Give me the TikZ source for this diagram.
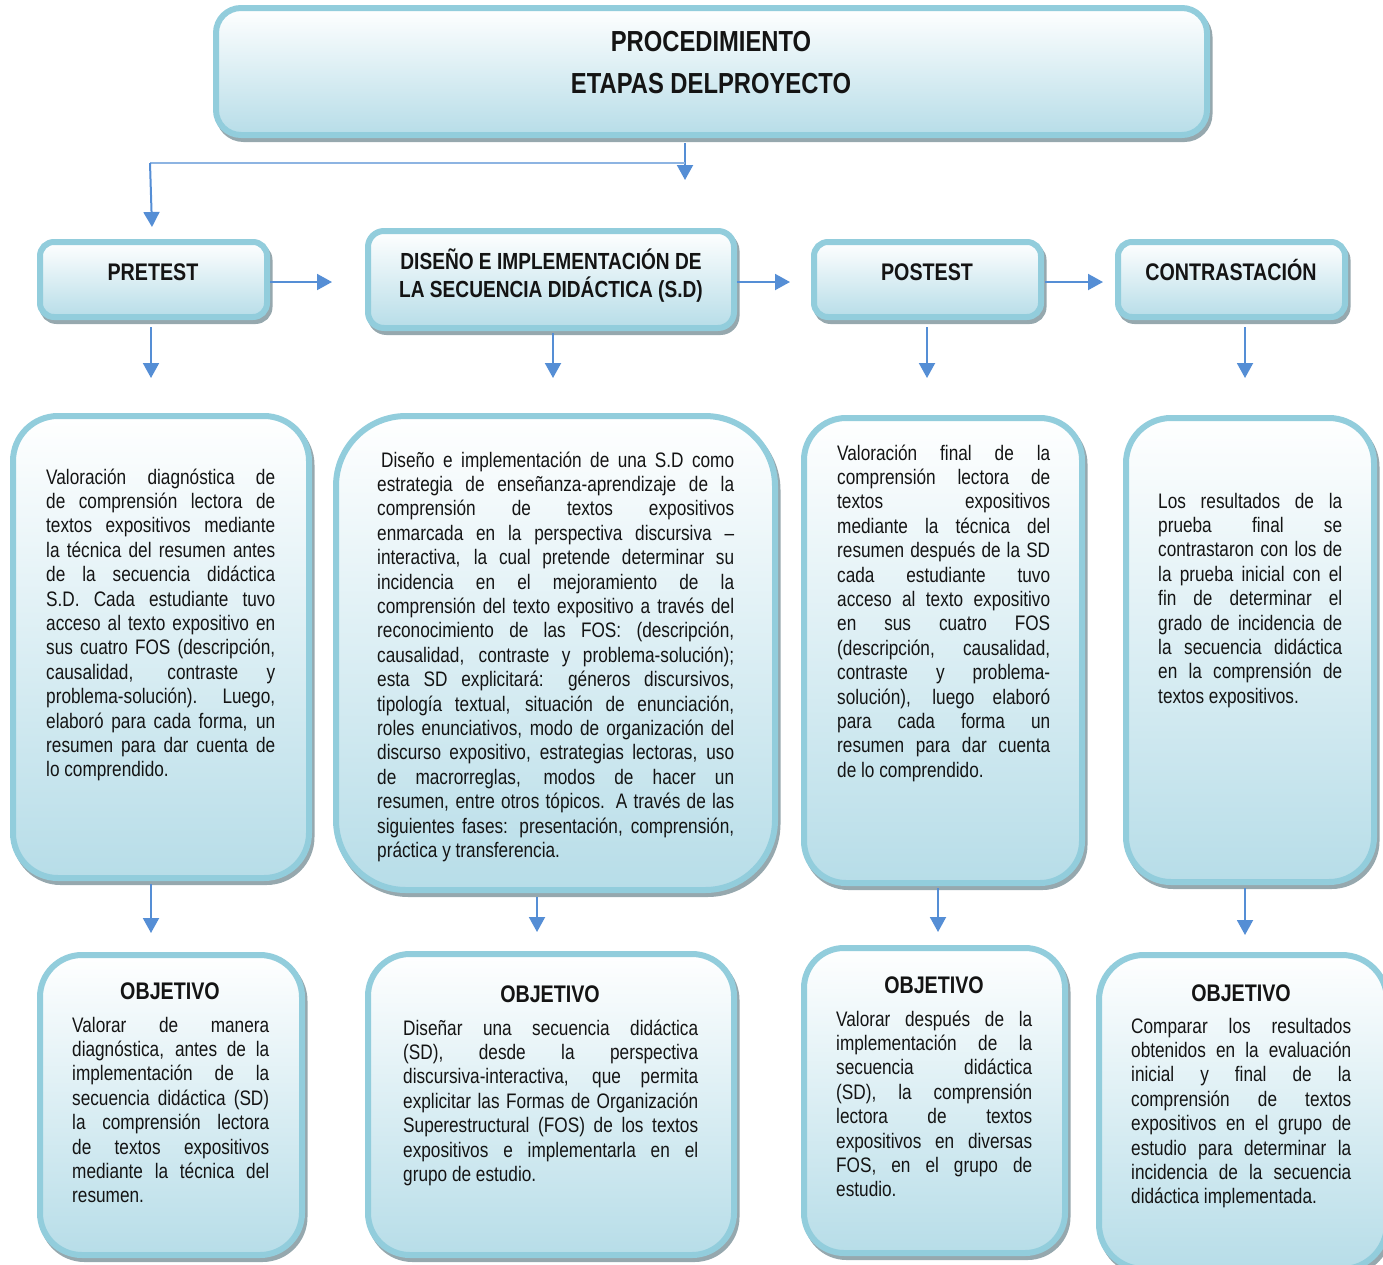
\documentclass[tikz,border=0pt]{standalone}
\usepackage{fontspec}
\setmainfont{Liberation Sans}[FakeStretch=0.82]
\usetikzlibrary{arrows.meta,shadows,calc}

\definecolor{boxline}{RGB}{146,205,220}
\definecolor{boxfill}{RGB}{183,221,232}
\definecolor{arrowc}{RGB}{85,142,213}
\definecolor{linkc}{RGB}{141,180,226}
\definecolor{shadowc}{RGB}{150,168,174}
\definecolor{ink}{RGB}{20,20,20}

% one justified line of a paragraph, and the last (ragged) line
\newlength\lw
\newcommand\J[1]{\hbox to\lw{#1}}
\newcommand\E[1]{\hbox{#1}}

\tikzset{
  panel/.style={draw=boxline, line width=6pt, top color=white, bottom color=boxfill,
    inner sep=0pt, outer sep=0pt,
    drop shadow={shadow xshift=2.5pt, shadow yshift=-4pt, fill=shadowc, draw=shadowc, line width=6pt, opacity=1}},
  body/.style={inner sep=0pt, anchor=base west, text=ink, font=\fontsize{21}{24.4}\selectfont},
  head/.style={inner sep=0pt, text=ink, font=\bfseries\fontsize{24}{28}\selectfont},
  arr/.style={draw=arrowc, line width=2pt, -{Triangle[width=16pt,length=15pt]}},
  link/.style={draw=linkc, line width=2pt},
}

\begin{document}
\begin{tikzpicture}[x=1pt,y=-1pt]
\useasboundingbox (0,0) rectangle (1383,1264);

% ---------- boxes ----------
\node[panel, rounded corners=25pt, minimum width=991pt, minimum height=127pt] (top) at (711.5,71.5) {};

\node[panel, rounded corners=14pt, minimum width=227pt, minimum height=75pt] (pre) at (153.5,279.5) {};
\node[panel, rounded corners=16pt, minimum width=366pt, minimum height=97pt] (dis) at (551,279.5) {};
\node[panel, rounded corners=14pt, minimum width=227pt, minimum height=75pt] (post) at (927.5,279.5) {};
\node[panel, rounded corners=14pt, minimum width=227pt, minimum height=75pt] (con) at (1231.5,279.5) {};

\node[panel, rounded corners=45pt, minimum width=296pt, minimum height=462pt] (m1) at (161,647) {};
\node[panel, rounded corners=70pt, minimum width=439pt, minimum height=474pt] (m2) at (555.5,653) {};
\node[panel, rounded corners=42pt, minimum width=278pt, minimum height=465pt] (m3) at (943,650.5) {};
\node[panel, rounded corners=45pt, minimum width=248pt, minimum height=464pt] (m4) at (1250,650) {};

\node[panel, rounded corners=42pt, minimum width=262pt, minimum height=300pt] (b1) at (171,1105) {};
\node[panel, rounded corners=42pt, minimum width=366pt, minimum height=301pt] (b2) at (551,1104.5) {};
\node[panel, rounded corners=40pt, minimum width=261pt, minimum height=305pt] (b3) at (934.5,1100.5) {};
\node[panel, rounded corners=45pt, minimum width=288pt, minimum height=314pt] (b4) at (1243,1112) {};

% ---------- titles ----------
\node[inner sep=0pt, text=ink, align=center, font=\bfseries\fontsize{29}{42}\selectfont] (ttl) at (711,63)
  {PROCEDIMIENTO\\ETAPAS DELPROYECTO};
\node[head, anchor=base] (preT) at (153,280.6) {PRETEST};
\node[head, align=center, font=\bfseries\fontsize{23.3}{28}\selectfont] (disT) at (551,276) {DISEÑO E IMPLEMENTACIÓN DE\\LA SECUENCIA DIDÁCTICA (S.D)};
\node[head, anchor=base] (postT) at (927,280.6) {POSTEST};
\node[head, anchor=base] (conT) at (1231,280.6) {CONTRASTACIÓN};

\node[head, anchor=base] (o1) at (170,999.6) {OBJETIVO};
\node[head, anchor=base] (o2) at (550,1002.6) {OBJETIVO};
\node[head, anchor=base] (o3) at (934,993.6) {OBJETIVO};
\node[head, anchor=base] (o4) at (1241,1001.6) {OBJETIVO};

% ---------- stage descriptions ----------
\node[body] (d1) at (46,484) {\setlength\lw{229pt}\vtop{
\J{Valoración diagnóstica de}
\J{de comprensión lectora de}
\J{textos expositivos mediante}
\J{la técnica del resumen antes}
\J{de la secuencia didáctica}
\J{S.D. Cada estudiante tuvo}
\J{acceso al texto expositivo en}
\J{sus cuatro FOS (descripción,}
\J{causalidad, contraste y}
\J{problema-solución). Luego,}
\J{elaboró para cada forma, un}
\J{resumen para dar cuenta de}
\E{lo comprendido.}}};

\node[body] (d2) at (377,467) {\setlength\lw{357pt}\vtop{
\J{\hskip4pt Diseño e implementación de una S.D como}
\J{estrategia de enseñanza-aprendizaje de la}
\J{comprensión de textos expositivos}
\J{enmarcada en la perspectiva discursiva –}
\J{interactiva, la cual pretende determinar su}
\J{incidencia en el mejoramiento de la}
\J{comprensión del texto expositivo a través del}
\J{reconocimiento de las FOS: (descripción,}
\J{causalidad, contraste y problema-solución);}
\J{esta SD explicitará: géneros discursivos,}
\J{tipología textual, situación de enunciación,}
\J{roles enunciativos, modo de organización del}
\J{discurso expositivo, estrategias lectoras, uso}
\J{de macrorreglas, modos de hacer un}
\J{resumen, entre otros tópicos. A través de las}
\J{siguientes fases: presentación, comprensión,}
\E{práctica y transferencia.}}};

\node[body] (d3) at (837,460) {\setlength\lw{213pt}\vtop{
\J{Valoración final de la}
\J{comprensión lectora de}
\J{textos expositivos}
\J{mediante la técnica del}
\J{resumen después de la SD}
\J{cada estudiante tuvo}
\J{acceso al texto expositivo}
\J{en sus cuatro FOS}
\J{(descripción, causalidad,}
\J{contraste y problema-}
\J{solución), luego elaboró}
\J{para cada forma un}
\J{resumen para dar cuenta}
\E{de lo comprendido.}}};

\node[body] (d4) at (1158,508) {\setlength\lw{184pt}\vtop{
\J{Los resultados de la}
\J{prueba final se}
\J{contrastaron con los de}
\J{la prueba inicial con el}
\J{fin de determinar el}
\J{grado de incidencia de}
\J{la secuencia didáctica}
\J{en la comprensión de}
\E{textos expositivos.}}};

% ---------- objectives ----------
\node[body] (g1) at (72,1032) {\setlength\lw{197pt}\vtop{
\J{Valorar de manera}
\J{diagnóstica, antes de la}
\J{implementación de la}
\J{secuencia didáctica (SD)}
\J{la comprensión lectora}
\J{de textos expositivos}
\J{mediante la técnica del}
\E{resumen.}}};

\node[body] (g2) at (403,1035) {\setlength\lw{295pt}\vtop{
\J{Diseñar una secuencia didáctica}
\J{(SD), desde la perspectiva}
\J{discursiva-interactiva, que permita}
\J{explicitar las Formas de Organización}
\J{Superestructural (FOS) de los textos}
\J{expositivos e implementarla en el}
\E{grupo de estudio.}}};

\node[body] (g3) at (836,1026) {\setlength\lw{196pt}\vtop{
\J{Valorar después de la}
\J{implementación de la}
\J{secuencia didáctica}
\J{(SD), la comprensión}
\J{lectora de textos}
\J{expositivos en diversas}
\J{FOS, en el grupo de}
\E{estudio.}}};

\node[body] (g4) at (1131,1033) {\setlength\lw{220pt}\vtop{
\J{Comparar los resultados}
\J{obtenidos en la evaluación}
\J{inicial y final de la}
\J{comprensión de textos}
\J{expositivos en el grupo de}
\J{estudio para determinar la}
\J{incidencia de la secuencia}
\E{didáctica implementada.}}};

% ---------- connectors ----------
\coordinate (tdrop) at (685,180);
\coordinate (tcorner) at (150,163);
\coordinate (tleft) at (152,227);
\draw[arr, shorten <=8pt] (top.south -| tdrop) -- (tdrop);
\draw[link] (tcorner -| tdrop) -- (tcorner);
\draw[arr] (tcorner) -- (tleft);

\draw[arr, shorten <=3pt, shorten >=36pt] ($(pre.east)+(0,2.5)$) -- ($(pre.east -| dis.west)+(0,2.5)$);
\draw[arr, shorten <=3pt, shorten >=24pt] ($(dis.east)+(0,2.5)$) -- ($(dis.east -| post.west)+(0,2.5)$);
\draw[arr, shorten <=4pt, shorten >=15pt] ($(post.east)+(0,2.5)$) -- ($(post.east -| con.west)+(0,2.5)$);

\draw[arr, shorten <=10pt, shorten >=38pt] (pre.south -| 151,0) -- (m1.north -| 151,0);
\draw[arr, shorten <=5pt, shorten >=38pt] (dis.south -| 553,0) -- (m2.north -| 553,0);
\draw[arr, shorten <=10pt, shorten >=40pt] (post.south -| 927,0) -- (m3.north -| 927,0);
\draw[arr, shorten <=10pt, shorten >=40pt] (con.south -| 1245,0) -- (m4.north -| 1245,0);

\draw[arr, shorten <=6pt, shorten >=22pt] (m1.south -| 151,0) -- (b1.north -| 151,0);
\draw[arr, shorten <=7pt, shorten >=22pt] (m2.south -| 537,0) -- (b2.north -| 537,0);
\draw[arr, shorten <=5pt, shorten >=16pt] (m3.south -| 938,0) -- (b3.north -| 938,0);
\draw[arr, shorten <=6pt, shorten >=20pt] (m4.south -| 1245,0) -- (b4.north -| 1245,0);
\end{tikzpicture}
\end{document}
